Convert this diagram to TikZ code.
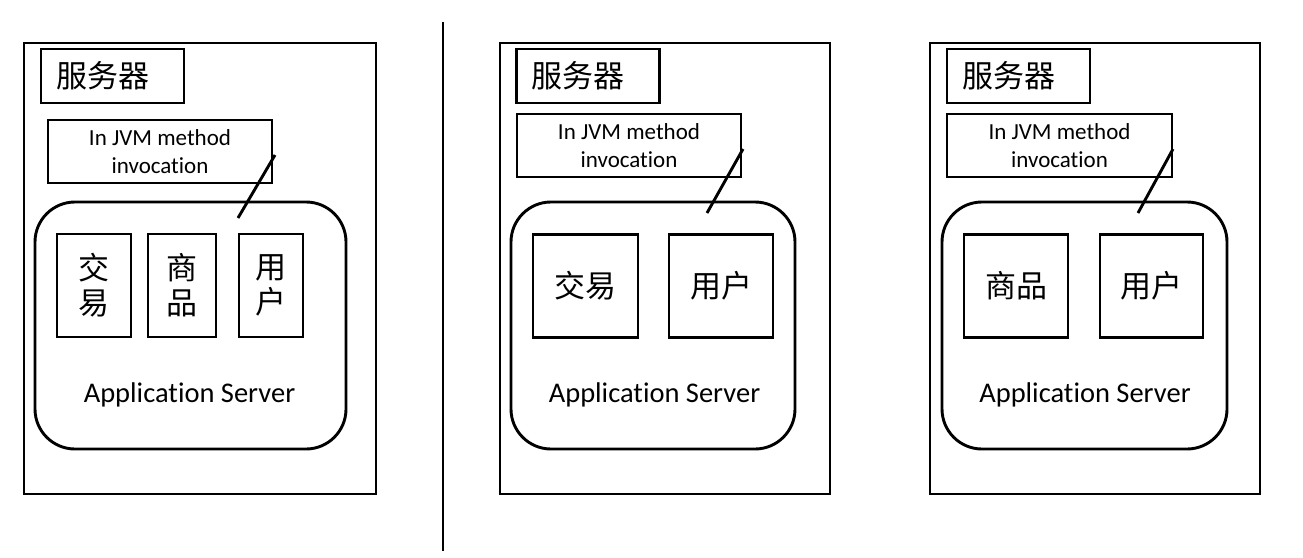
\documentclass[tikz,border=0pt]{standalone}
\usepackage{fontspec}
\setmainfont{Carlito}[Ligatures=CommonOff]
\newfontfamily\cjk{Noto Sans CJK SC}
\begin{document}
\begin{tikzpicture}[x=1pt,y=-1pt,
  frame/.style={draw, line width=2.9pt, inner sep=0pt, rectangle},
  outerbox/.style={frame, minimum height=451pt},
  srvbox/.style={frame, minimum height=54pt, text width=113pt, inner xsep=15pt, align=left, font=\cjk\fontsize{31}{34}\selectfont},
  jvmbox/.style={frame, minimum height=63pt, minimum width=224pt, align=center, font=\fontsize{23}{28}\selectfont},
  appbox/.style={frame, rounded corners=40pt, minimum height=247pt},
  modbox/.style={frame, minimum height=103pt, align=center, font=\cjk\fontsize{31}{35}\selectfont},
  applabel/.style={inner sep=0pt, font=\fontsize{28.5}{30}\selectfont},
  link/.style={line width=2.9pt}
]
\useasboundingbox (0,0) rectangle (1303,557);

% divider
\coordinate (dtop) at (443,22);
\coordinate (dbot) at (443,551);
\draw[link] (dtop) -- (dbot);

% ---------- panel 1 ----------
\node[outerbox, minimum width=352pt] (outer1) at (200,268.5) {};
\node[srvbox] (srv1) at (112.5,76) {服务器};
\node[jvmbox] (jvm1) at (160,151.5) {In JVM method\\invocation};
\node[appbox, minimum width=311pt] (app1) at (190.5,325.5) {};
\node[modbox, minimum width=74pt] (m11) at (94,285.5) {交\\易};
\node[modbox, minimum width=68pt] (m12) at (182,285.5) {商\\品};
\node[modbox, minimum width=64pt] (m13) at (271,285.5) {用\\户};
\node[applabel] (lab1) at (189.5,395) {Application Server};
\coordinate (l1s) at (275,155);
\coordinate (l1e) at (238,218);
\draw[link] (l1s) -- (l1e);

% ---------- panel 2 ----------
\node[outerbox, minimum width=330pt] (outer2) at (665,268.5) {};
\node[srvbox] (srv2) at (588,76) {服务器};
\node[jvmbox] (jvm2) at (629,145.5) {In JVM method\\invocation};
\node[appbox, minimum width=284pt] (app2) at (653,325.5) {};
\node[modbox, minimum width=105pt] (m21) at (585.5,286) {交易};
\node[modbox, minimum width=104pt] (m22) at (721,286) {用户};
\node[applabel] (lab2) at (654.5,395) {Application Server};
\coordinate (l2s) at (743,149);
\coordinate (l2e) at (707,213);
\draw[link] (l2s) -- (l2e);

% ---------- panel 3 ----------
\node[outerbox, minimum width=330pt] (outer3) at (1095,268.5) {};
\node[srvbox] (srv3) at (1018.5,76) {服务器};
\node[jvmbox, minimum width=225pt] (jvm3) at (1059.5,145.5) {In JVM method\\invocation};
\node[appbox, minimum width=285pt] (app3) at (1084.5,325.5) {};
\node[modbox, minimum width=104pt] (m31) at (1016,286) {商品};
\node[modbox, minimum width=103pt] (m32) at (1151.5,286) {用户};
\node[applabel] (lab3) at (1085,395) {Application Server};
\coordinate (l3s) at (1173,149);
\coordinate (l3e) at (1138,213);
\draw[link] (l3s) -- (l3e);
\end{tikzpicture}
\end{document}
